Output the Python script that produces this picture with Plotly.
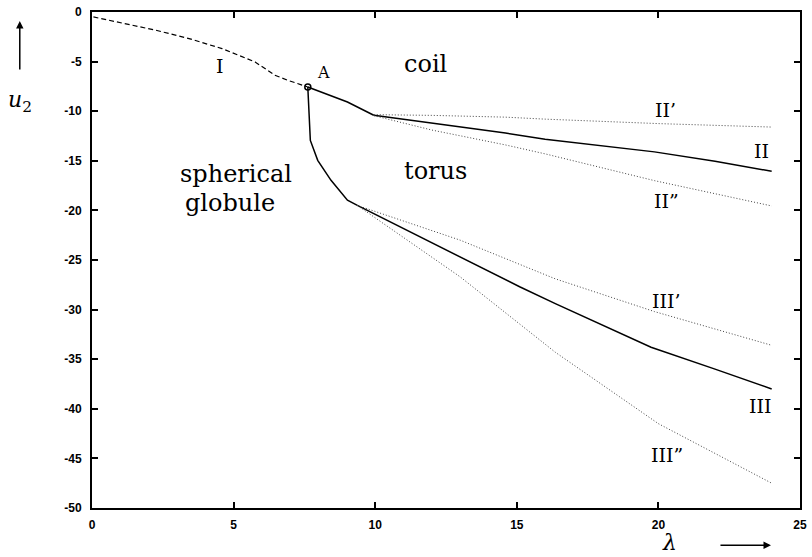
import plotly.graph_objects as go

# ---------------- data ----------------
I_lam = [0.05, 1.1, 2.26, 3.43, 4.59, 5.76, 6.22, 6.46, 6.92, 7.62]
I_u = [-0.5, -1.17, -1.84, -2.68, -3.69, -5.04, -5.88, -6.38, -6.89, -7.56]

drop_lam = [7.62, 7.71, 7.97, 8.44, 9.02, 9.37]
drop_u = [-7.56, -12.95, -14.95, -16.97, -18.98, -19.5]

IIa_lam = [7.62, 9.02, 9.95]
IIa_u = [-7.56, -9.07, -10.41]

II_lam = [9.95, 12.0, 14.6, 16.0, 18.0, 19.86, 22.0, 24.0]
II_u = [-10.41, -11.22, -12.2, -12.83, -13.45, -14.1, -15.05, -16.06]

IIp_lam = [9.95, 12.0, 14.6, 16.0, 20.0, 24.0]
IIp_u = [-10.35, -10.42, -10.6, -10.8, -11.25, -11.6]

IIpp_lam = [9.95, 12.0, 14.6, 16.0, 19.86, 24.0]
IIpp_u = [-10.45, -11.9, -13.4, -14.3, -17.0, -19.55]

III_lam = [9.37, 13.0, 15.1, 16.36, 19.74, 22.0, 24.0]
III_u = [-19.5, -24.7, -27.7, -29.4, -33.8, -36.0, -38.0]

IIIp_lam = [9.37, 13.0, 16.36, 19.86, 24.0]
IIIp_u = [-19.5, -23.0, -26.9, -30.2, -33.6]

IIIpp_lam = [9.37, 13.0, 16.36, 17.76, 20.0, 24.0]
IIIpp_u = [-19.5, -26.7, -34.3, -37.1, -41.5, -47.5]

A_lam = [7.62]
A_u = [-7.56]

x_ticks = [0, 5, 10, 15, 20, 25]
y_ticks = [0, -5, -10, -15, -20, -25, -30, -35, -40, -45, -50]

# labels: (text, lambda, u, size)
curve_labels = [
    ("I", 4.52, -5.43, 19),
    ("A", 8.19, -6.13, 16),
    ("II\u2019", 20.25, -9.92, 19),
    ("II", 23.64, -14.04, 19),
    ("II\u201d", 20.28, -19.1, 19),
    ("III\u2019", 20.3, -29.17, 19),
    ("III", 23.6, -39.75, 19),
    ("III\u201d", 20.31, -44.7, 19),
]
region_labels = [
    ("coil", 11.79, -5.2),
    ("torus", 12.13, -16.0),
    ("spherical", 5.1, -16.3),
    ("globule", 4.86, -19.25),
]

fig = go.Figure()

dotted = dict(color="#444444", width=1, dash="1px,2px")
solid = dict(color="black", width=1.5)

fig.add_trace(go.Scatter(x=I_lam, y=I_u, mode="lines",
                         line=dict(color="black", width=1.2, dash="5px,3px")))
fig.add_trace(go.Scatter(x=drop_lam, y=drop_u, mode="lines", line=solid))
fig.add_trace(go.Scatter(x=IIa_lam, y=IIa_u, mode="lines", line=solid))
fig.add_trace(go.Scatter(x=II_lam, y=II_u, mode="lines", line=solid))
fig.add_trace(go.Scatter(x=IIp_lam, y=IIp_u, mode="lines", line=dotted))
fig.add_trace(go.Scatter(x=IIpp_lam, y=IIpp_u, mode="lines", line=dotted))
fig.add_trace(go.Scatter(x=III_lam, y=III_u, mode="lines", line=solid))
fig.add_trace(go.Scatter(x=IIIp_lam, y=IIIp_u, mode="lines", line=dotted))
fig.add_trace(go.Scatter(x=IIIpp_lam, y=IIIpp_u, mode="lines", line=dotted))
fig.add_trace(go.Scatter(x=A_lam, y=A_u, mode="markers",
                         marker=dict(symbol="circle-open", size=6, color="black",
                                     line=dict(width=1.5, color="black"))))

serif = "DejaVu Serif"
for txt, lx, ly, sz in curve_labels:
    fig.add_annotation(x=lx, y=ly, text=txt, showarrow=False,
                       xanchor="center", yanchor="middle",
                       font=dict(family=serif, size=sz, color="black"))
for txt, lx, ly in region_labels:
    fig.add_annotation(x=lx, y=ly, text=txt, showarrow=False,
                       xanchor="center", yanchor="middle",
                       font=dict(family=serif, size=24, color="black"))

# axis titles with arrows
fig.add_annotation(xref="paper", yref="paper", x=-0.102, y=0.82,
                   xanchor="center", yanchor="middle",
                   text="<i>u</i><sub>2</sub>", showarrow=False,
                   font=dict(family=serif, size=22, color="black"))
fig.add_annotation(xref="paper", yref="paper", x=-0.102, y=0.982, ax=0, ay=50,
                   text="", showarrow=True, arrowhead=2, arrowsize=1,
                   arrowwidth=1.5, arrowcolor="black")
fig.add_annotation(xref="paper", yref="paper", x=0.816, y=-0.07,
                   xanchor="center", yanchor="middle",
                   text="<i>λ</i>", showarrow=False,
                   font=dict(family=serif, size=22, color="black"))
fig.add_annotation(xref="paper", yref="paper", x=0.959, y=-0.075, ax=-52, ay=0,
                   text="", showarrow=True, arrowhead=2, arrowsize=1,
                   arrowwidth=1.5, arrowcolor="black")

tickfont = dict(family="Liberation Sans", size=12, color="black", weight="bold")
fig.update_xaxes(range=[0, 25], tickvals=x_ticks, ticktext=[str(v) for v in x_ticks],
                 ticks="inside", ticklen=6, tickwidth=1.5, tickcolor="black",
                 showline=True, linewidth=2, linecolor="black", mirror="ticks",
                 showgrid=False, zeroline=False, tickfont=tickfont,
                 ticklabelstandoff=5)
fig.update_yaxes(range=[-50, 0], tickvals=y_ticks, ticktext=[str(v) for v in y_ticks],
                 ticks="inside", ticklen=6, tickwidth=1.5, tickcolor="black",
                 showline=True, linewidth=2, linecolor="black", mirror="ticks",
                 showgrid=False, zeroline=False, tickfont=tickfont,
                 ticklabelstandoff=6)

fig.update_layout(width=812, height=557, showlegend=False,
                  margin=dict(l=92, r=5, t=12, b=49),
                  plot_bgcolor="white", paper_bgcolor="white")

fig.write_html("out.html")
